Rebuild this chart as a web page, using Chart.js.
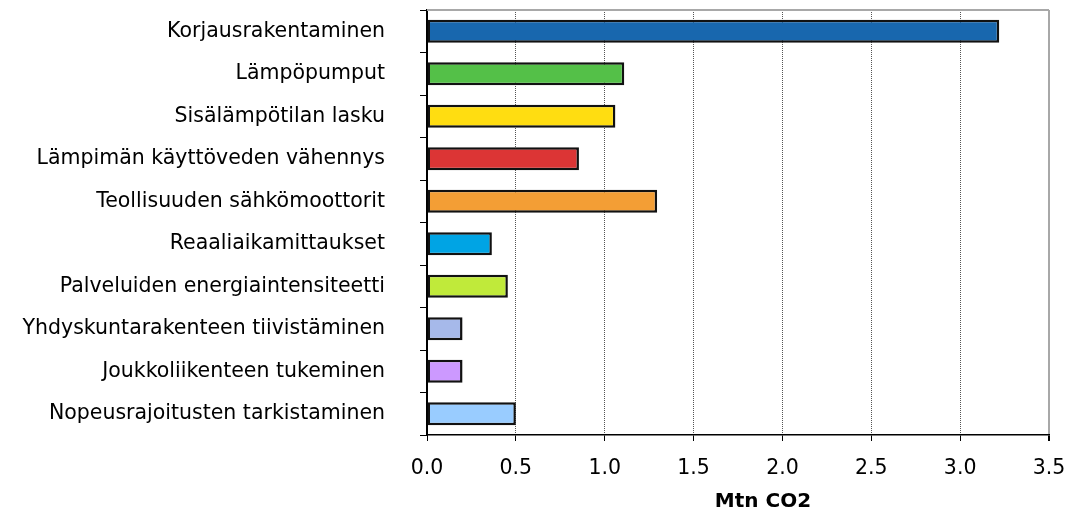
<!DOCTYPE html>
<html>
<head>
<meta charset="utf-8">
<script src="https://cdn.jsdelivr.net/npm/chart.js@4"></script>
<style>
  html, body { margin: 0; padding: 0; background: #fff; }
  #wrap { width: 1070px; height: 511px; }
</style>
</head>
<body>
<div id="wrap"><canvas id="chart"></canvas></div>
<script>
const categories = [
  'Korjausrakentaminen',
  'Lämpöpumput',
  'Sisälämpötilan lasku',
  'Lämpimän käyttöveden vähennys',
  'Teollisuuden sähkömoottorit',
  'Reaaliaikamittaukset',
  'Palveluiden energiaintensiteetti',
  'Yhdyskuntarakenteen tiivistäminen',
  'Joukkoliikenteen tukeminen',
  'Nopeusrajoitusten tarkistaminen',
];
const values = [3.22, 1.11, 1.06, 0.855, 1.295, 0.365, 0.455, 0.2, 0.2, 0.5];
const barColors = [
  '#1867ae', '#54c048', '#ffdd11', '#dc3535', '#f39e35',
  '#00a4e4', '#c0ea3a', '#a6b9ea', '#cc99ff', '#99ccff',
];
const xTickValues = [0, 0.5, 1, 1.5, 2, 2.5, 3, 3.5];
const axisTitle = 'Mtn CO2';

const FONT = 'DejaVu Sans, Verdana, sans-serif';

// top border of the plot area + axis title (offset to the right like the original)
const framePlugin = {
  id: 'frame',
  beforeDatasetsDraw(chart) {
    const { ctx, chartArea } = chart;
    ctx.save();
    ctx.strokeStyle = '#a8a8a8';
    ctx.lineWidth = 2;
    ctx.beginPath();
    ctx.moveTo(chartArea.left, chartArea.top);
    ctx.lineTo(chartArea.right, chartArea.top);
    ctx.stroke();
    ctx.restore();
  },
  afterDraw(chart) {
    const { ctx, chartArea, scales } = chart;
    ctx.save();
    ctx.font = 'bold 20px ' + FONT;
    ctx.fillStyle = '#000';
    ctx.textAlign = 'center';
    ctx.textBaseline = 'middle';
    ctx.fillText(axisTitle, (chartArea.left + chartArea.right) / 2 + 25, scales.x.bottom - 9);
    ctx.restore();
  },
};

new Chart(document.getElementById('chart'), {
  type: 'bar',
  data: {
    labels: categories,
    datasets: [
      {
        data: values,
        backgroundColor: barColors,
        borderColor: '#111',
        borderWidth: 2.5,
        borderSkipped: false,
        categoryPercentage: 1,
        barPercentage: 0.54,
      },
    ],
  },
  options: {
    indexAxis: 'y',
    responsive: true,
    maintainAspectRatio: false,
    animation: false,
    layout: { padding: { top: 10, right: 21, bottom: 0, left: 0 } },
    plugins: {
      legend: { display: false },
      tooltip: { enabled: false },
    },
    scales: {
      x: {
        min: 0,
        max: 3.5,
        afterFit: (scale) => {
          scale.height = 76;
          scale.paddingLeft = 0;
          scale.paddingRight = 0;
        },
        afterBuildTicks: (scale) => {
          scale.ticks = xTickValues.map((v) => ({ value: v }));
        },
        ticks: {
          color: '#000',
          font: { family: FONT, size: 20.5 },
          padding: 15,
          maxRotation: 0,
          callback: (v) => Number(v).toFixed(1),
        },
        grid: {
          color: (c) => (c.index === xTickValues.length - 1 ? '#a8a8a8' : '#555'),
          lineWidth: (c) => (c.index === xTickValues.length - 1 ? 2 : 1),
          tickColor: '#000',
          tickLength: 6,
        },
        border: {
          color: '#000',
          width: 1.5,
          dash: (c) => (c.index > 0 && c.index < xTickValues.length - 1 ? [1, 1] : []),
        },
      },
      y: {
        afterFit: (scale) => {
          scale.width = 427;
          scale.paddingTop = 0;
          scale.paddingBottom = 0;
        },
        ticks: {
          color: '#000',
          font: { family: FONT, size: 20.5 },
          padding: 35,
        },
        grid: {
          offset: true,
          drawOnChartArea: false,
          tickColor: '#000',
          tickLength: 7,
        },
        border: { color: '#000', width: 2 },
      },
    },
  },
  plugins: [framePlugin],
});
</script>
</body>
</html>
